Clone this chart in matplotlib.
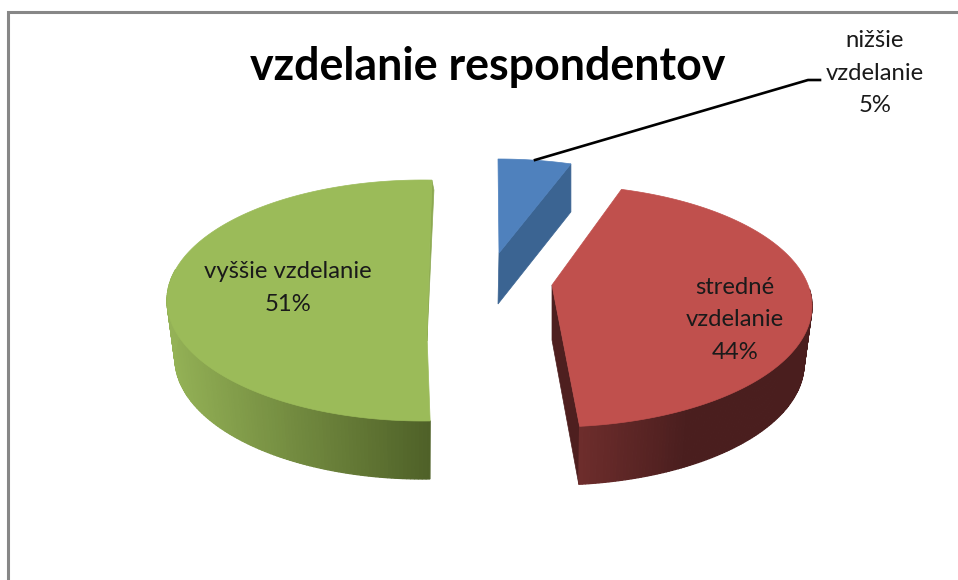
import numpy as np
import matplotlib
matplotlib.use('Agg')
import matplotlib.pyplot as plt

# hodnoty z grafu
kategorie = ['nižšie\nvzdelanie', 'stredné\nvzdelanie', 'vyššie vzdelanie']
hodnoty = [5, 44, 51]
nazov = 'vzdelanie respondentov'

farby = ['#4F81BD', '#C0504D', '#9BBB59']
farby_rez = ['#3B6492', '#4E1F1F', '#8CA951']
plast_od = [None, '#6E2D2C', '#94B256']
plast_do = [None, '#4A1E1E', '#4F6128']

# geometria rezov v pixeloch: stred elipsy, polomery, natocenie, vrchol, vyska
stred = [(498, 259), (552, 306), (423, 300.5)]
polomer = [(236, 100), (260, 121), (256, 120.5)]
natocenie = [0, -2.5, 2]
vrchol = [(499, 253), (552, 285), (427, 335)]
vyska = [48, 58, 58]
zuzenie = [0, 8, 8]
pos_rez = [(-1, 51), (0, 55), (0, 6)]
plast_rozsah = [None, (82, None), (None, 285)]
popisy_xy = [(875, 73), (735, 320), (288, 288)]

plt.rcParams['font.family'] = ['Lato', 'DejaVu Sans']

fig = plt.figure(figsize=(9.58, 5.8), dpi=100)
ax = fig.add_axes([0, 0, 1, 1])
ax.set_xlim(0, 958)
ax.set_ylim(580, 0)
ax.axis('off')

# ramik grafu
ax.plot([8.5, 8.5, 958], [580, 12, 12], color='#878787', lw=2.2, solid_joinstyle='miter')


def bod(i, th, dole=False):
    cx, cy = stred[i]
    rx, ry = polomer[i]
    if dole:
        rx = rx - zuzenie[i]
        cy = cy + vyska[i]
    return cx + rx*np.sin(np.radians(th)), cy - ry*np.cos(np.radians(th))


def mix(a, b, t):
    a = np.array(matplotlib.colors.to_rgb(a))
    b = np.array(matplotlib.colors.to_rgb(b))
    return tuple(a + (b - a)*t)


uhol = 0
for i, h in enumerate(hodnoty):
    th1 = uhol + natocenie[i]
    th2 = uhol + h*3.6 + natocenie[i]
    uhol += h*3.6

    # rezna plocha
    x2, y2 = bod(i, th2)
    if i == 2:
        xd, yd = x2 + 2, y2 + 10
    elif i == 0:
        xd, yd = bod(i, th2, True)
    else:
        xd, yd = None, None
    ax_, ay = vrchol[i]
    if i == 1:
        # pri stredom reze je viditelna stena od vrcholu ku koncu oblúka
        xk, yk = bod(i, th2)
        xl, yl = bod(i, th2, True)
        ax.fill([ax_, ax_ + pos_rez[i][0], xl, xk], [ay, ay + pos_rez[i][1], yl, yk],
                color=farby_rez[i], lw=0.5, zorder=2)
    else:
        ax.fill([x2, xd, ax_ + pos_rez[i][0], ax_], [y2, yd, ay + pos_rez[i][1], ay],
                color=farby_rez[i], lw=0.5, zorder=2)

    # plast s prechodom farby
    if plast_od[i] is not None:
        zac, kon = plast_rozsah[i]
        zac = th1 if zac is None else zac
        kon = th2 if kon is None else kon
        t = np.linspace(zac, kon, 120)
        xs = [bod(i, v)[0] for v in t]
        for k in range(len(t) - 1):
            xa, ya = bod(i, t[k])
            xb, yb = bod(i, t[k + 1])
            xc, yc = bod(i, t[k + 1], True)
            xe, ye = bod(i, t[k], True)
            if i == 2:
                f = (max(xs) - xa)/(max(xs) - min(xs))
                c = mix(plast_do[i], plast_od[i], f)
            else:
                f = min(1, (xa - min(xs))/110)
                c = mix(plast_od[i], plast_do[i], f)
            ax.fill([xa, xb, xc, xe], [ya, yb, yc, ye], color=c, lw=0.9, zorder=3)

    # vrchna plocha
    t = np.linspace(th1, th2, 150)
    xy = [bod(i, v) for v in t]
    ax.fill([p[0] for p in xy] + [ax_], [p[1] for p in xy] + [ay],
            color=farby[i], lw=0.5, zorder=4)

# popisy
for i, k in enumerate(kategorie):
    ax.text(popisy_xy[i][0], popisy_xy[i][1], k + '\n' + str(hodnoty[i]) + '%',
            ha='center', va='center', fontsize=17.2, linespacing=1.68,
            color='#1a1a1a', zorder=6)

# odkazova ciara k malemu rezu
ax.plot([535, 808, 820], [160, 80, 80], color='black', lw=1.9, zorder=5)

ax.text(488, 67, nazov, ha='center', va='center', fontsize=32.2, fontweight='bold',
        color='black', zorder=6)

plt.savefig('out.png', dpi=100)
